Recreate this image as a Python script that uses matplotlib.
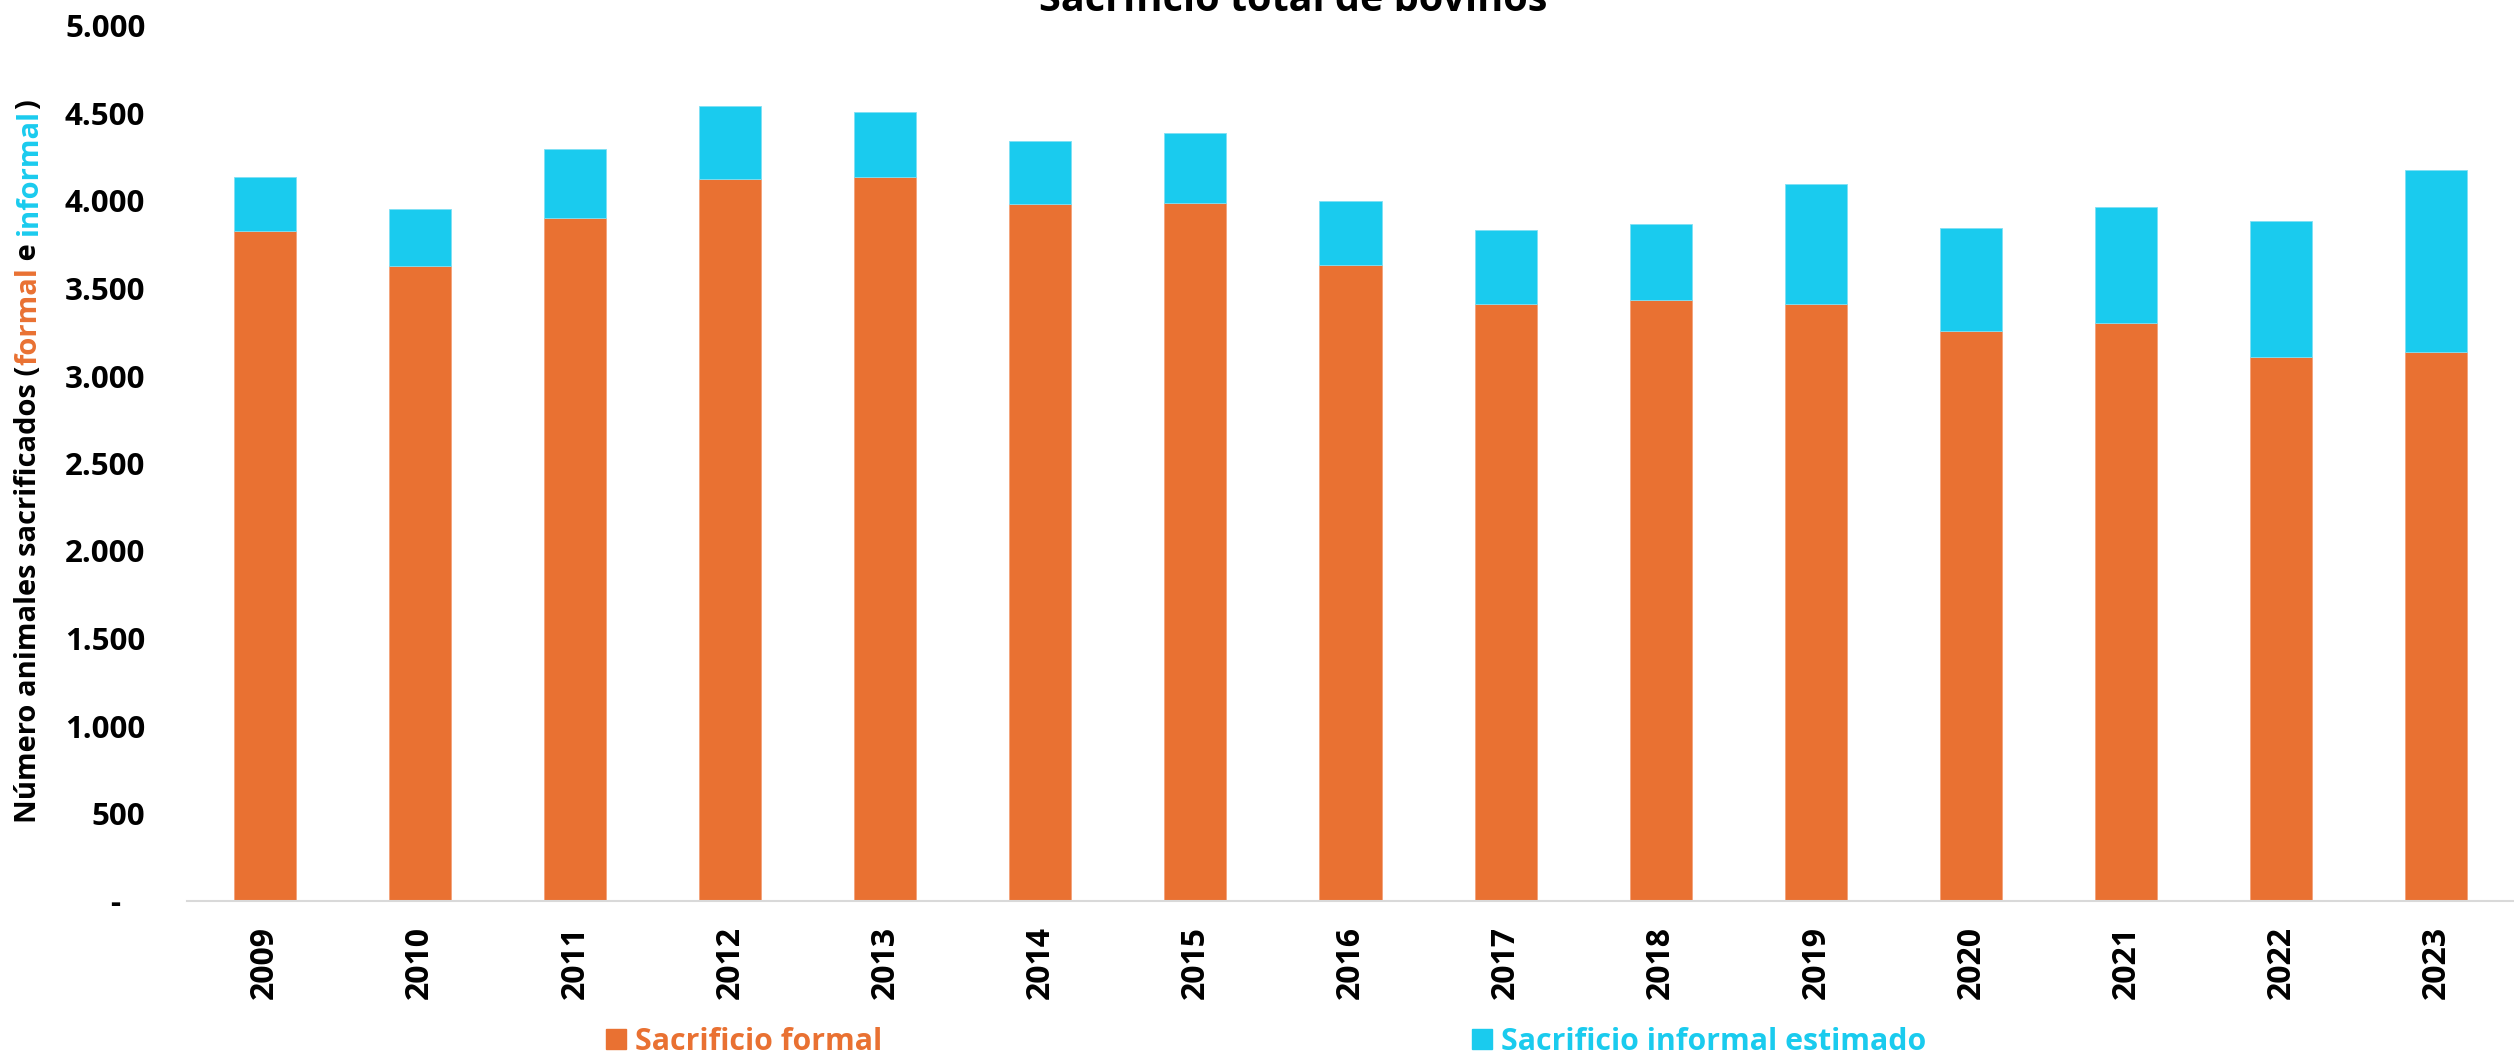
import matplotlib
matplotlib.use("Agg")
import matplotlib.pyplot as plt
from matplotlib.patches import Patch
from matplotlib.ticker import FuncFormatter

years = ["2009", "2010", "2011", "2012", "2013", "2014", "2015", "2016",
         "2017", "2018", "2019", "2020", "2021", "2022", "2023"]
formal = [3827, 3627, 3903, 4127, 4135, 3985, 3987, 3632, 3410, 3436, 3411, 3257, 3303, 3107, 3137]
informal = [308, 325, 392, 414, 374, 358, 402, 366, 424, 431, 684, 587, 661, 779, 1038]
yticks = [0, 500, 1000, 1500, 2000, 2500, 3000, 3500, 4000, 4500, 5000]

ORANGE = "#E97132"
BLUE = "#1ACBEE"
FONT = ["Open Sans", "DejaVu Sans"]

plt.rcParams["font.family"] = FONT
plt.rcParams["font.weight"] = "bold"

W, H = 2514, 1060
fig = plt.figure(figsize=(W / 100, H / 100), dpi=100)
ax = fig.add_axes([187 / W, 1 - 901 / H, 1 - 187 / W, (901 - 26) / H])

x = list(range(len(years)))
ax.bar(x, formal, width=0.4, color=ORANGE, edgecolor="#F3A27A", linewidth=0.6, label="Sacrificio formal", zorder=2)
ax.bar(x, informal, width=0.4, bottom=formal, color=BLUE, edgecolor="#7FE0F4", linewidth=0.6,
       label="Sacrificio informal estimado", zorder=2)

ax.set_xlim(-0.5, len(years) - 0.5)
ax.set_ylim(0, 5000)
ax.set_yticks(yticks)


def fmt(v, pos):
    if v == 0:
        return "-   "
    return f"{int(v):,}".replace(",", ".")


ax.yaxis.set_major_formatter(FuncFormatter(fmt))
ax.set_xticks(x)
ax.set_xticklabels(years, rotation=90, fontsize=23, fontweight="bold")
ax.tick_params(axis="y", length=0, pad=30, labelsize=22.5)
ax.tick_params(axis="x", length=0, pad=18)
for lab in ax.get_yticklabels():
    lab.set_fontweight("bold")

for s in ["top", "right", "left"]:
    ax.spines[s].set_visible(False)
ax.spines["bottom"].set_color("#D9D9D9")
ax.spines["bottom"].set_linewidth(1.5)

# Title (partially cut off at the top like the reference)
fig.text(1293 / W, 1 - 11 / H, "Sacrificio total de bovinos", ha="center", va="baseline",
         fontsize=28.5, fontweight="bold", color="black")

# Multi-coloured rotated y label
pieces = [("Número animales sacrificados (", "black"), ("formal", ORANGE), (" e ", "black"),
          ("informal", BLUE), (")", "black")]
fig.canvas.draw()
renderer = fig.canvas.get_renderer()
texts = []
heights = []
for s, c in pieces:
    t = fig.text(0, 0, s, rotation=90, ha="center", va="bottom", fontsize=21,
                 fontweight="bold", color=c)
    texts.append(t)
fig.canvas.draw()
for t in texts:
    bb = t.get_window_extent(renderer)
    heights.append(bb.height)
total = sum(heights)
ycenter = H - 461
ystart = ycenter - total / 2
xc = 29
cur = ystart
for t, h in zip(texts, heights):
    t.set_position((xc / W, cur / H))
    cur += h

# Legend
handles = [Patch(facecolor=ORANGE, edgecolor=ORANGE), Patch(facecolor=BLUE, edgecolor=BLUE)]
leg = fig.legend(handles, ["Sacrificio formal", "Sacrificio informal estimado"], ncol=2,
                 loc="center left", bbox_to_anchor=(606 / W, 1 - 1042 / H), frameon=False,
                 fontsize=21.8, handlelength=0.65, handleheight=0.65, handletextpad=0.3,
                 columnspacing=19.5, borderaxespad=0, borderpad=0)
for t, c in zip(leg.get_texts(), [ORANGE, BLUE]):
    t.set_color(c)
    t.set_fontweight("bold")

fig.savefig("out.png", dpi=100, facecolor="white")
